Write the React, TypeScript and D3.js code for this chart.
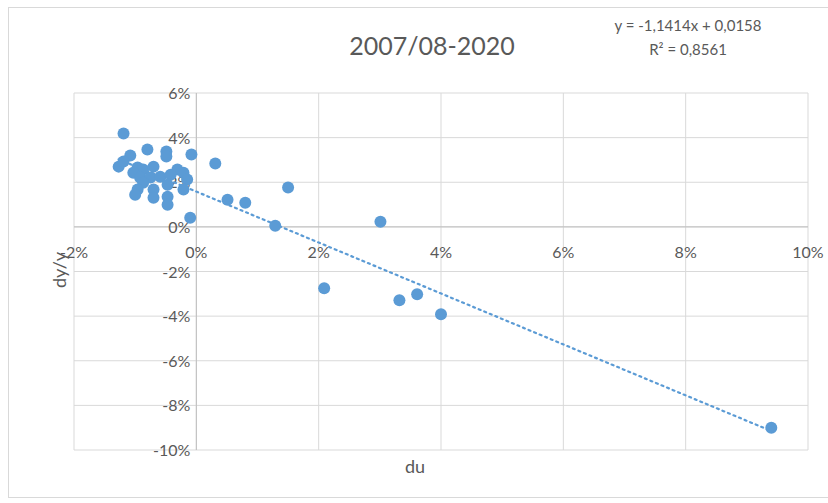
import React from "react";
import * as d3 from "d3";

const duValues = [-1.19,-0.80,-1.08,-0.49,-0.49,-0.08,0.31,-1.27,-1.19,-0.96,-0.87,-0.70,-1.03,-0.31,-0.21,-0.92,-0.75,-0.59,-0.42,-0.15,-0.87,-0.47,-0.96,-0.70,-0.21,-1.00,-0.70,-0.47,-0.47,0.51,0.80,-0.10,1.29,1.50,3.01,2.09,3.32,3.61,4.00,9.40];
const dyValues = [4.19,3.47,3.20,3.38,3.15,3.24,2.84,2.70,2.93,2.66,2.57,2.70,2.43,2.57,2.43,2.21,2.21,2.25,2.34,2.12,1.98,1.89,1.67,1.67,1.67,1.44,1.31,1.35,0.99,1.22,1.08,0.41,0.05,1.76,0.23,-2.75,-3.29,-3.02,-3.92,-9.0];
const xTicks = [-2,0,2,4,6,8,10];
const yTicks = [-10,-8,-6,-4,-2,0,2,4,6];
const slope = -1.1414, intercept = 1.58;

export default function App() {
  const x = d3.scaleLinear().domain([-2, 10]).range([74, 808]);
  const y = d3.scaleLinear().domain([-10, 6]).range([450, 93]);
  const font = "Lato, 'Open Sans', sans-serif";
  const gray = "#595959";
  const xmin = d3.min(duValues)!, xmax = d3.max(duValues)!;
  return (
    <svg width={828} height={503} style={{ position: "absolute", left: 0, top: 0 }}>
      <rect x={0} y={0} width={828} height={503} fill="#fff" />
      <rect x={8.5} y={7.5} width={830} height={490} fill="none" stroke="#d9d9d9" />
      {xTicks.map(t => <line key={"x" + t} x1={x(t)} x2={x(t)} y1={93} y2={450} stroke="#d9d9d9" />)}
      {yTicks.map(t => <line key={"y" + t} x1={74} x2={808} y1={y(t)} y2={y(t)} stroke="#d9d9d9" />)}
      <line x1={x(0)} x2={x(0)} y1={93} y2={450} stroke="#bfbfbf" />
      <line x1={74} x2={808} y1={y(0)} y2={y(0)} stroke="#bfbfbf" />
      {xTicks.map(t => <text key={"xl" + t} x={x(t)} y={y(0) + 31} textAnchor="middle" fontFamily={font} fontSize={16} fill={gray}>{t}%</text>)}
      {yTicks.map(t => <text key={"yl" + t} x={x(0) - 6} y={y(t) + 6} textAnchor="end" fontFamily={font} fontSize={16} fill={gray}>{t}%</text>)}
      <line x1={x(xmin)} y1={y(slope * xmin + intercept)} x2={x(xmax)} y2={y(slope * xmax + intercept)} stroke="#5b9bd5" strokeWidth={2.2} strokeDasharray="2 4" strokeLinecap="round" />
      {duValues.map((d, i) => <circle key={i} cx={x(d)} cy={y(dyValues[i])} r={6} fill="#5b9bd5" />)}
      <text x={432} y={55} textAnchor="middle" fontFamily={font} fontSize={25} fill={gray}>2007/08-2020</text>
      <text x={688} y={31} textAnchor="middle" fontFamily={font} fontSize={15} fill={gray}>y = -1,1414x + 0,0158</text>
      <text x={688} y={55} textAnchor="middle" fontFamily={font} fontSize={15} fill={gray}>R² = 0,8561</text>
      <text x={415} y={473} textAnchor="middle" fontFamily={font} fontSize={18} fill={gray}>du</text>
      <text transform="translate(66,270) rotate(-90)" textAnchor="middle" fontFamily={font} fontSize={18} fill={gray}>dy/y</text>
    </svg>
  );
}
